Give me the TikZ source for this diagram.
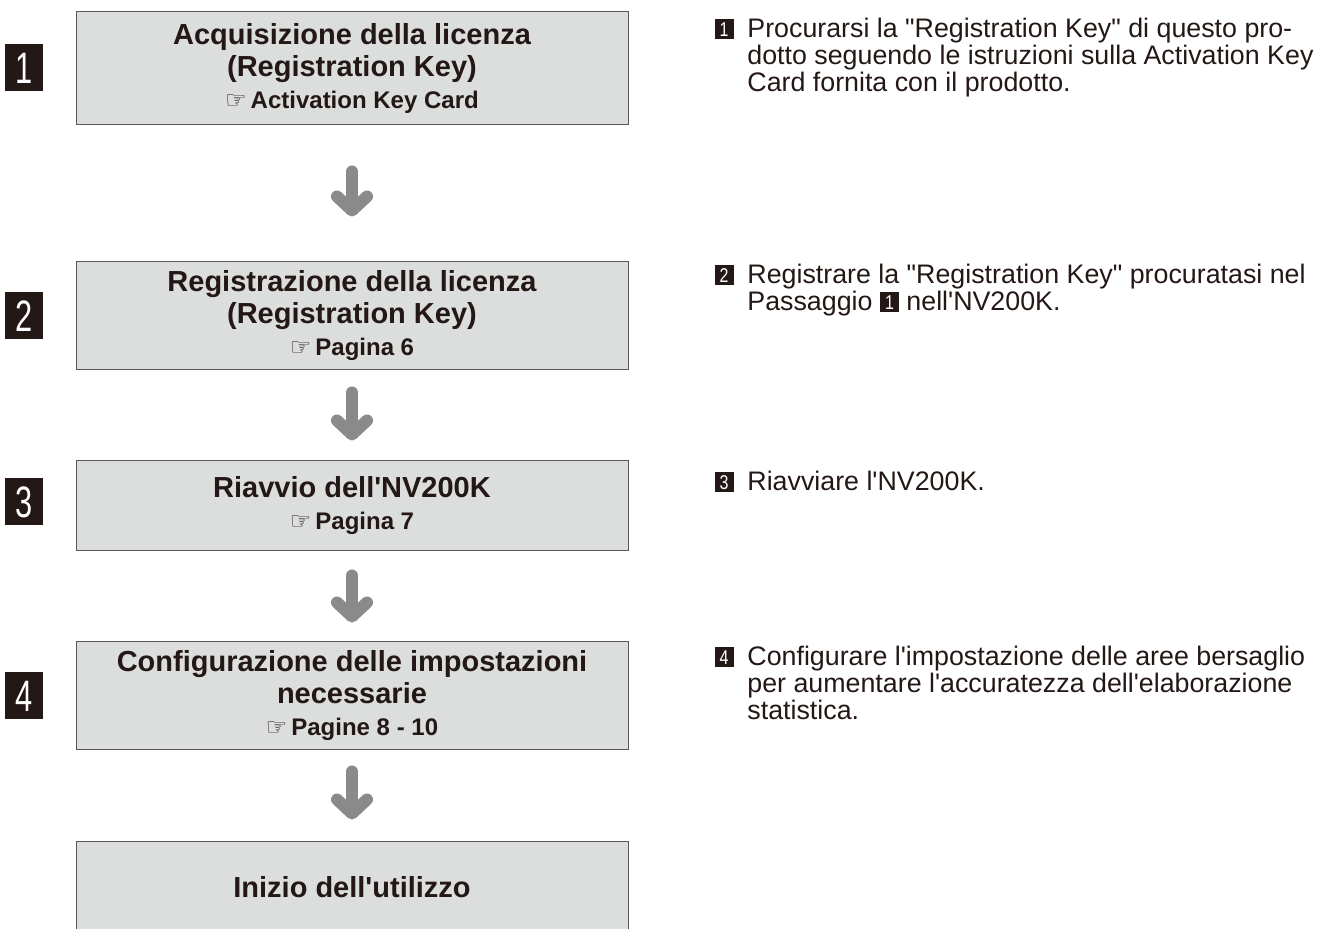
\documentclass[tikz,border=0pt]{standalone}
\usepackage{fontspec}
\setmainfont{Liberation Sans}[Ligatures=TeXOff]
\newfontfamily\handfont{DejaVu Sans}
\usepackage{xcolor}
\usepackage{graphicx}
\usetikzlibrary{arrows.meta,positioning}

\definecolor{boxgray}{HTML}{DCDDDD}
\definecolor{framegray}{HTML}{595757}
\definecolor{arrowgray}{HTML}{8A8A8A}
\definecolor{inkblack}{HTML}{231815}

% small black square with a white digit
\newcommand{\stepmark}[1]{{\setlength{\fboxsep}{0pt}\raisebox{-0.6pt}{\colorbox{inkblack}{\makebox[9.5pt]{\rule{0pt}{10pt}\raisebox{1.4pt}{\color{white}\fontsize{10}{10}\selectfont\scalebox{0.8}[1]{#1}}}}}}}
\newcommand{\seeref}{{\handfont\fontsize{12}{12}\selectfont ☞}\,}
\newcommand{\subfont}{\fontsize{12}{14}\selectfont}

\tikzset{
  flowbox/.style={draw=framegray, line width=0.5pt, fill=boxgray, minimum width=276pt,
    align=center, text=inkblack, font=\bfseries\fontsize{14.5}{16}\selectfont},
  bignum/.style={fill=inkblack, text=white, minimum width=19pt, minimum height=23.5pt,
    inner sep=0pt, font=\fontsize{22}{22}\selectfont},
  flowarrow/.style={arrowgray, line width=6pt, line cap=round,
    -{Straight Barb[round, length=7pt, width=15pt]}},
  notetext/.style={anchor=base west, align=left, inner sep=0pt, text=inkblack,
    font=\fontsize{13.4}{13.5}\selectfont},
  notemark/.style={anchor=base east, inner sep=0pt},
}

\begin{document}
\begin{tikzpicture}[x=0.5pt, y=-0.5pt]
    \useasboundingbox (0,0) rectangle (1318,929);

    % Steps
    \node[flowbox, minimum height=56.5pt] (acquire) at (352,68.5)
        {Acquisizione della licenza\\(Registration Key)\\{\subfont\seeref Activation Key Card}};
    \node[flowbox, minimum height=54pt] (register) at (352,316)
        {Registrazione della licenza\\(Registration Key)\\{\subfont\seeref Pagina 6}};
    \node[flowbox, minimum height=45pt] (reboot) at (352,506)
        {Riavvio dell'NV200K\\{\subfont\seeref Pagina 7}};
    \node[flowbox, minimum height=54pt] (configure) at (352,696)
        {Configurazione delle impostazioni\\necessarie\\{\subfont\seeref Pagine 8 - 10}};
    \node[flowbox, minimum height=45pt] (start) at (352,887) {Inizio dell'utilizzo};

    % Step numbers
    \node[bignum] (num1) at (24,68) {\scalebox{0.7}[1]{1}};
    \node[bignum] (num2) at (24,316) {\scalebox{0.7}[1]{2}};
    \node[bignum] (num3) at (24,502) {\scalebox{0.7}[1]{3}};
    \node[bignum] (num4) at (24,696) {\scalebox{0.7}[1]{4}};

    % Arrows
    \draw[flowarrow, shorten <=23pt, shorten >=22.5pt] (acquire) -- (register);
    \draw[flowarrow, shorten <=11pt, shorten >=10pt] (register) -- (reboot);
    \draw[flowarrow, shorten <=12pt, shorten >=9.5pt] (reboot) -- (configure);
    \draw[flowarrow, shorten <=10.5pt, shorten >=11pt] (configure) -- (start);

    % Notes (text nodes sit on the baseline of their last line)
    \node[notemark] (mark1) at (734,38) {\stepmark{1}};
    \node[notetext] (note1) at (747,92) {Procurarsi la "Registration Key" di questo pro-\\dotto seguendo le istruzioni sulla Activation Key\\Card fornita con il prodotto.};
    \node[notemark] (mark2) at (734,284) {\stepmark{2}};
    \node[notetext] (note2) at (747,311) {Registrare la "Registration Key" procuratasi nel\\Passaggio \stepmark{1} nell'NV200K.};
    \node[notemark] (mark3) at (734,491) {\stepmark{3}};
    \node[notetext] (note3) at (747,491) {Riavviare l'NV200K.};
    \node[notemark] (mark4) at (734,666) {\stepmark{4}};
    \node[notetext] (note4) at (747,720) {Configurare l'impostazione delle aree bersaglio\\per aumentare l'accuratezza dell'elaborazione\\statistica.};
\end{tikzpicture}
\end{document}
